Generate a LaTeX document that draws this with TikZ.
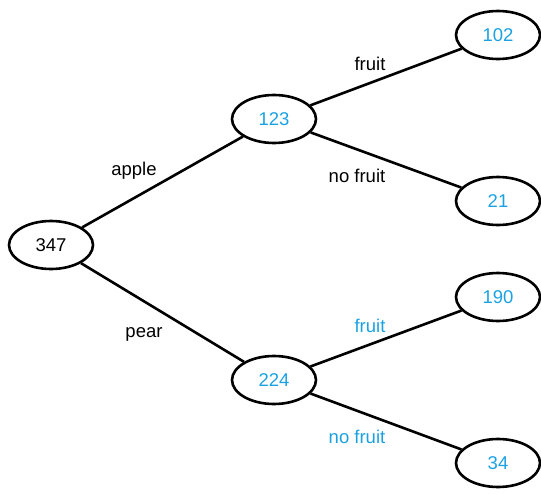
\documentclass[tikz,border=0pt]{standalone}
\usepackage{fontspec}
\setmainfont{Liberation Sans}
\usetikzlibrary{shapes.geometric}
\definecolor{lblue}{HTML}{1BA1E2}
\tikzset{
  leaf/.style={ellipse, draw=black, line width=2.6pt, minimum width=84pt, minimum height=48pt, inner sep=0pt, font=\fontsize{18.5}{22}\selectfont},
  edge/.style={line width=2.6pt},
  lbl/.style={font=\fontsize{18.5}{22}\selectfont, inner sep=0pt},
}
\begin{document}
\begin{tikzpicture}[x=1pt,y=-1pt]
\useasboundingbox (0,0) rectangle (541,493);
\node[leaf] (r) at (51,245) {347};
\node[leaf, text=lblue] (a) at (274,119) {123};
\node[leaf, text=lblue] (p) at (274,380) {224};
\node[leaf, text=lblue] (af) at (498,35) {102};
\node[leaf, text=lblue] (an) at (498,201) {21};
\node[leaf, text=lblue] (pf) at (498,297) {190};
\node[leaf, text=lblue] (pn) at (498,463) {34};
\draw[edge] (r) -- (a);
\draw[edge] (r) -- (p);
\draw[edge] (a) -- (af);
\draw[edge] (a) -- (an);
\draw[edge] (p) -- (pf);
\draw[edge] (p) -- (pn);
\node[lbl] (l1) at (134,171) {apple};
\node[lbl] (l2) at (144,334) {pear};
\node[lbl] (l3) at (370,64) {fruit};
\node[lbl] (l4) at (357,176) {no fruit};
\node[lbl, text=lblue] (l5) at (370,326) {fruit};
\node[lbl, text=lblue] (l6) at (357,437) {no fruit};
\end{tikzpicture}
\end{document}
